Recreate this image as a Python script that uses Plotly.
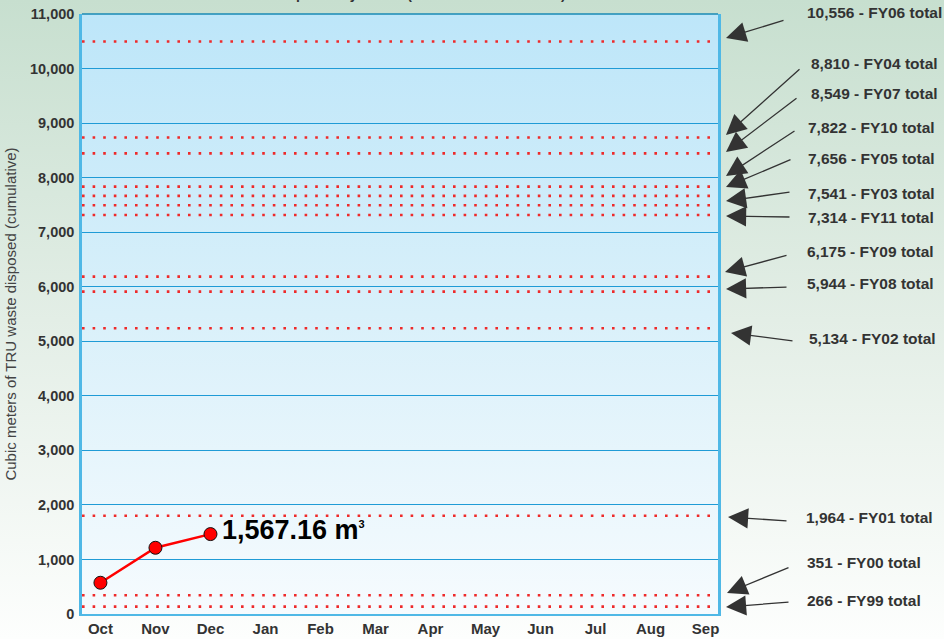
import base64
import plotly.graph_objects as go

# month axis and cumulative disposal for the current year
months = ['Oct', 'Nov', 'Dec', 'Jan', 'Feb', 'Mar', 'Apr', 'May', 'Jun', 'Jul', 'Aug', 'Sep']
disposed = [573, 1214, 1465]
latest_label = '1,567.16'

# previous fiscal year totals
fy_names = ['FY06', 'FY04', 'FY07', 'FY10', 'FY05', 'FY03', 'FY11',
            'FY09', 'FY08', 'FY02', 'FY01', 'FY00', 'FY99']
fy_totals = [10556, 8810, 8549, 7822, 7656, 7541, 7314,
             6175, 5944, 5134, 1964, 351, 266]
# where the dotted reference lines sit on the chart
line_levels = [10495, 8735, 8445, 7835, 7665, 7495, 7315,
               6185, 5910, 5240, 1800, 345, 135]

y_ticks = list(range(0, 11001, 1000))

W, H = 944, 639
L, R, T, B = 82, 226, 14, 25
PW, PH = W - L - R, H - T - B
FONT = 'Liberation Sans, Arial, sans-serif'


def px_x(x):
    return (x - L) / PW


def px_y(y):
    return (H - B - y) / PH


def gradient(stops):
    s = ''.join(f'<stop offset="{o}" stop-color="{c}"/>' for o, c in stops)
    svg = ('<svg xmlns="http://www.w3.org/2000/svg" width="10" height="100" '
           'viewBox="0 0 10 100" preserveAspectRatio="none"><defs>'
           '<linearGradient id="g" x1="0" y1="0" x2="0" y2="1">' + s +
           '</linearGradient></defs><rect width="10" height="100" fill="url(#g)"/></svg>')
    return 'data:image/svg+xml;base64,' + base64.b64encode(svg.encode()).decode()


fig = go.Figure()

fig.add_trace(go.Scatter(
    x=months[:len(disposed)], y=disposed, mode='lines+markers',
    line=dict(color='#ff0000', width=2.5),
    marker=dict(size=13, color='#ff0000', line=dict(color='#111111', width=1)),
    hoverinfo='skip', showlegend=False,
))

for lvl in line_levels:
    fig.add_hline(y=lvl, line=dict(color='#ee2a2a', width=2.6, dash='2.6px,8px'), layer='above')

# label + arrow positions in pixels: (text x, text y, tip x, tip y, tail x, tail y)
label_pos = [
    (805, 13, 726, 38, 785, 20),
    (809, 63, 726, 135, 801, 68),
    (809, 94, 726, 152, 798, 97),
    (806, 128, 726, 176, 796, 130),
    (806, 158, 726, 187, 792, 159),
    (806, 193, 726, 201, 791, 192),
    (806, 218, 726, 216, 791, 217),
    (805, 252, 725, 272, 788, 255),
    (805, 283, 726, 289, 788, 287),
    (807, 338, 731, 333, 794, 341),
    (804, 517, 728, 517, 788, 521),
    (805, 562, 727, 593, 790, 567),
    (805, 600, 726, 607, 790, 602),
]

for fy, total, (tx, ty, hx, hy, ax, ay) in zip(fy_names, fy_totals, label_pos):
    fig.add_annotation(
        x=px_x(tx), y=px_y(ty), xref='paper', yref='paper',
        text=f'{total:,} - {fy} total', showarrow=False,
        xanchor='left', yanchor='middle',
        font=dict(family=FONT, size=15.5, color='#333333', weight='bold'),
    )
    fig.add_annotation(
        x=px_x(hx), y=px_y(hy), xref='paper', yref='paper',
        text='', showarrow=True, ax=ax - hx, ay=ay - hy,
        arrowhead=2, arrowsize=3.1, arrowwidth=1.3, arrowcolor='#333333', standoff=0,
    )

fig.add_annotation(
    x=months[len(disposed) - 1], y=disposed[-1], xref='x', yref='y',
    text=f'{latest_label} m<sup><span style="font-size:11px">3</span></sup>', showarrow=False,
    xanchor='left', yanchor='middle', xshift=10, yshift=4,
    font=dict(family=FONT, size=27, color='#000000', weight='bold'),
)

# title that runs off the top edge of the original
fig.add_annotation(
    x=px_x(568), y=px_y(4), xref='paper', yref='paper',
    text='TRU Waste Disposed by Month (FY12 Cumulative Total)', showarrow=False,
    xanchor='right', yanchor='bottom',
    font=dict(family=FONT, size=14, color='#333333', weight='bold'),
)

# top border is a darker blue in the original
fig.add_shape(type='line', xref='paper', yref='paper', x0=0, x1=1, y0=1, y1=1,
              line=dict(color='#1a8ab5', width=1.5))

fig.update_layout(
    width=W, height=H,
    margin=dict(l=L, r=R, t=T, b=B, autoexpand=False),
    paper_bgcolor='#eef5f0', plot_bgcolor='rgba(0,0,0,0)',
    font=dict(family=FONT, color='#333333'),
    images=[
        dict(source=gradient([(0, '#c7dfcf'), (0.5, '#e3eee6'), (1, '#fdfefd')]),
             xref='paper', yref='paper', x=px_x(0), y=px_y(0),
             sizex=W / PW, sizey=H / PH, sizing='stretch', layer='below'),
        dict(source=gradient([(0, '#bde6f9'), (0.5, '#d9f0fa'), (1, '#f6fbfe')]),
             xref='paper', yref='paper', x=0, y=1,
             sizex=1, sizey=1, sizing='stretch', layer='below'),
    ],
    showlegend=False,
)

fig.update_xaxes(
    type='category', categoryorder='array', categoryarray=months,
    range=[-0.335, 11.225], showgrid=False, zeroline=False, automargin=False,
    showline=True, linecolor='#4fb8e6', linewidth=2, mirror=False,
    ticks='', tickfont=dict(family=FONT, size=15, color='#333333', weight='bold'),
)
fig.update_yaxes(
    range=[0, 11000], tickvals=y_ticks, tickformat=',d', automargin=False,
    showgrid=True, gridcolor='#1f9bd6', gridwidth=1.2, zeroline=False,
    showline=True, linecolor='#4fb8e6', linewidth=2.5, mirror=True,
    ticks='', ticklabelstandoff=2,
    tickfont=dict(family=FONT, size=14.5, color='#333333', weight='bold'),
    title=dict(text='Cubic meters of TRU waste disposed (cumulative)', standoff=10,
               font=dict(family=FONT, size=15, color='#444444')),
)

fig.write_html('out.html', config={'displayModeBar': False},
               post_script="document.body.style.margin='0px';")
